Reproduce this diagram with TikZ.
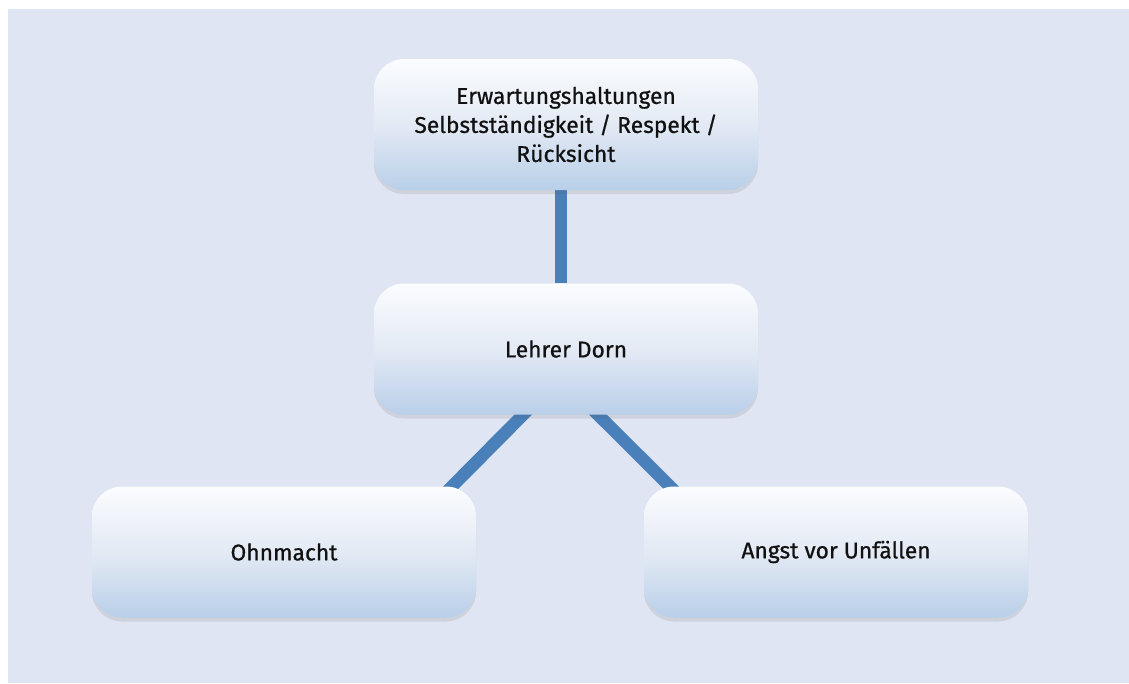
\documentclass[tikz,border=0pt]{standalone}
\usepackage{fontspec}
\setmainfont{Fira Sans}
\newfontfamily\cardfont{Fira Sans}[FakeBold=0.7]
\usetikzlibrary{positioning,shadows,backgrounds}
\definecolor{pagebg}{HTML}{DFE5F2}
\definecolor{boxtop}{HTML}{FBFCFE}
\definecolor{boxmid}{HTML}{E3EAF4}
\definecolor{boxbot}{HTML}{B9CFE9}
\definecolor{linkblue}{HTML}{4A80BA}
\definecolor{inkblack}{HTML}{111111}

\tikzset{
  card/.style={rounded corners=30pt,minimum width=384pt,minimum height=131pt,
    top color=boxtop,bottom color=boxbot,middle color=boxmid,
    drop shadow={shadow xshift=0pt,shadow yshift=-4pt,opacity=0.12,fill=black!70},
    align=center,text=inkblack,font=\cardfont\fontsize{22.8pt}{29pt}\selectfont},
  link/.style={draw=linkblue,line width=12.5pt}
}

\begin{document}
\begin{tikzpicture}[x=1pt,y=-1pt]
  \useasboundingbox (0,0) rectangle (1129,683);
  % the four cards
  \node[card] (erwartung) at (566,124.5) {Erwartungshaltungen\\Selbstständigkeit / Respekt /\\Rücksicht};
  \node[card] (lehrer) at (566,349) {Lehrer Dorn};
  \node[card] (ohnmacht) at (284,552) {Ohnmacht};
  \node[card] (angst) at (836,552) {Angst vor Unfällen};
  % page and connectors behind the cards
  \begin{scope}[on background layer]
    \fill[pagebg] (8,9) rectangle (1129,683);
    \draw[link] ([xshift=-5pt]erwartung.south) -- ([xshift=-5pt]lehrer.north);
    \draw[link] ([xshift=-33pt,yshift=10pt]lehrer.south) -- ([xshift=-34pt,yshift=-10pt]ohnmacht.north east);
    \draw[link] ([xshift=22pt,yshift=10pt]lehrer.south) -- ([xshift=36pt,yshift=-10pt]angst.north west);
  \end{scope}
\end{tikzpicture}
\end{document}
